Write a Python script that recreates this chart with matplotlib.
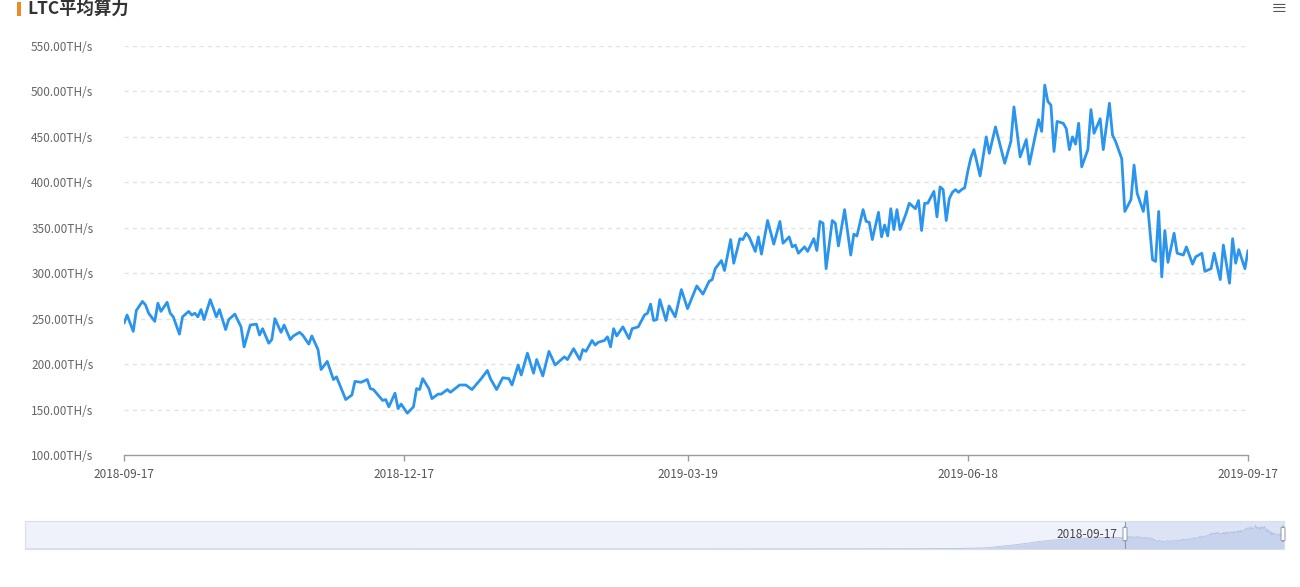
import matplotlib
matplotlib.use("Agg")
import matplotlib.pyplot as plt
from matplotlib.patches import Rectangle, FancyBboxPatch
import pandas as pd

plt.rcParams['font.family'] = ['Noto Sans CJK SC', 'DejaVu Sans']

# ---------------- data ----------------
title = "LTC平均算力"
start_date = "2018-09-17"
day_offsets = [
    0, 1, 3, 4, 6, 7, 8, 10, 11, 12, 14, 15, 16, 18, 19, 21, 22, 23, 24, 25, 26, 28, 30, 31, 33, 34, 36, 38, 39, 41,
    43, 44, 45, 47, 48, 49, 51, 52, 54, 55,
    57, 58, 60, 61, 63, 64, 66, 68, 69, 72, 74, 75, 77, 79, 80, 81, 84, 85, 86, 88, 89, 90, 92, 94, 95, 96, 97, 99,
    100, 102, 103, 105, 106, 109, 111,
    113, 116, 118, 119, 121, 123, 125, 126, 128, 129, 131, 133, 134, 136, 138, 140, 142, 143, 144, 146, 148, 149,
    150, 152, 153, 154, 156, 157, 158, 159, 160, 162, 164, 165,
    167, 169, 170, 171, 172, 173, 174, 176, 177, 179, 181, 183, 186, 188, 190, 191, 192, 194, 195, 197, 198, 200,
    201, 202, 203, 205, 206, 207, 209, 211, 213, 214, 216, 217, 218,
    219, 221, 222, 224, 225, 226, 227, 228, 230, 231, 232, 234, 236, 237, 238, 240, 241, 242, 243, 245, 246, 247,
    248, 249, 250, 251, 252, 254, 255, 257, 258, 259, 260, 261, 263, 264, 265, 266, 267, 268, 269, 270, 271, 272,
    273, 274, 275, 276,
    278, 280, 281, 283, 286, 288, 289, 291, 293, 294, 297, 298, 299, 300, 301, 302, 303, 305, 306, 307, 308, 309,
    310, 311, 313, 314, 315, 317, 318, 320, 321, 322, 324, 325, 327, 328, 329, 331, 332, 334, 335, 336, 337, 338,
    339, 341, 342, 344, 345, 347, 348, 350, 351, 353, 354, 356, 357, 359, 360, 361, 362, 364, 365,
]
hashrate = [
    245, 254, 236, 259, 269, 265, 256, 247, 267, 258, 268, 256, 252, 233, 252, 258, 254, 256, 252, 260, 249, 271,
    252, 260, 238, 249, 255, 241, 219, 243, 244, 232, 239, 223, 227, 250, 235, 243, 227, 231,
    235, 232, 222, 231, 216, 194, 203, 183, 186, 161, 166, 181, 180, 183, 173, 172, 160, 161, 153, 168, 151, 156,
    146, 153, 173, 172, 184, 173, 162, 167, 167, 172, 169, 177, 177,
    172, 184, 193, 184, 172, 185, 184, 177, 199, 188, 212, 190, 205, 187, 214, 199, 205, 208, 205, 217, 205, 216,
    214, 226, 221, 224, 226, 230, 219, 239, 231, 241, 228, 239,
    241, 254, 256, 266, 248, 249, 271, 248, 264, 252, 282, 261, 286, 277, 291, 293, 305, 314, 303, 337, 311, 338,
    337, 344, 340, 324, 340, 321, 358, 332, 357, 333, 340, 329, 331,
    322, 329, 324, 338, 325, 357, 355, 305, 358, 355, 330, 370, 320, 343, 341, 370, 357, 356, 337, 367, 340, 353,
    341, 371, 348, 370, 348, 366, 377, 371, 380, 347, 377, 377, 390, 362, 395, 392, 358, 382, 389, 392, 389, 392,
    394, 412, 427, 436,
    407, 450, 432, 461, 421, 445, 483, 428, 447, 420, 469, 456, 507, 489, 485, 434, 467, 465, 459, 436, 450, 442,
    465, 417, 436, 480, 454, 470, 436, 487, 452, 445, 426, 368, 381, 419, 388, 368, 390, 315, 313, 368, 296, 347,
    312, 344, 322, 320, 329, 310, 318, 322, 302, 305, 322, 293, 331, 289, 338, 311, 326, 305, 325,
]
x_tick_labels = ["2018-09-17", "2018-12-17", "2019-03-19", "2019-06-18", "2019-09-17"]
y_ticks = [100, 150, 200, 250, 300, 350, 400, 450, 500, 550]

# earlier history shown only in the data-zoom slider (rough reading)
history_dates = ["2011-10-12", "2013-01-01", "2014-01-01", "2015-01-01", "2016-01-01", "2017-01-01",
                 "2017-06-01", "2017-09-01", "2017-11-01", "2017-12-01", "2018-01-01", "2018-02-01",
                 "2018-03-01", "2018-04-01", "2018-05-01", "2018-06-01", "2018-07-01", "2018-08-01"]
history_values = [0, 0.1, 1, 1.5, 1, 3, 6, 12, 25, 55, 85, 120, 160, 190, 210, 225, 238, 248]

# ---------------- figure ----------------
W, H = 1300, 587
fig = plt.figure(figsize=(W / 100, H / 100), dpi=100)
fig.patch.set_facecolor("white")

def fx(px):
    return px / W

def fy(py):
    return 1 - py / H

dates = pd.Timestamp(start_date) + pd.to_timedelta(day_offsets, unit="D")
x0 = pd.Timestamp(start_date)
x1 = pd.Timestamp(x_tick_labels[-1])

ax = fig.add_axes([fx(124), fy(455), fx(1248) - fx(124), fy(46) - fy(455)])
ax.plot(dates, hashrate, color="#2b95ee", lw=2.0, solid_joinstyle="round", solid_capstyle="round", zorder=3)
ax.set_xlim(x0, x1)
ax.set_ylim(100, 550)
ax.set_yticks(y_ticks)
ax.set_yticklabels([f"{v:.2f}TH/s" for v in y_ticks])
ax.set_xticks([pd.Timestamp(t) for t in x_tick_labels])
ax.set_xticklabels(x_tick_labels)
for s in ["top", "right", "left"]:
    ax.spines[s].set_visible(False)
ax.spines["bottom"].set_color("#9a9a9a")
ax.spines["bottom"].set_linewidth(1.0)
ax.tick_params(axis="y", length=0, pad=22, labelsize=8.5, labelcolor="#666666")
ax.tick_params(axis="x", length=4, width=1, color="#9a9a9a", pad=5, labelsize=8.5, labelcolor="#555555")
ax.grid(axis="y", color="#e3e3e3", linestyle=(0, (3, 3)), linewidth=1.0)
ax.set_axisbelow(True)
for gl, v in zip(ax.get_ygridlines(), y_ticks):
    if v == 100:
        gl.set_visible(False)

# title and orange marker at the top-left
fig.text(fx(27), fy(9), title, fontsize=12.5, fontweight="bold", color="#333333", ha="left", va="center")
fig.patches.append(Rectangle((fx(17), fy(16)), fx(4), fy(2) - fy(16), transform=fig.transFigure,
                             facecolor="#f08a24", edgecolor="none"))
# menu icon
fig.text(fx(1279), fy(9), "≡", fontsize=12, color="#555555", ha="center", va="center")

# ---------------- data zoom slider ----------------
sax = fig.add_axes([fx(25), fy(549), fx(1284) - fx(25), fy(521) - fy(549)])
h_dates = pd.to_datetime(history_dates)
all_dates = list(h_dates) + list(dates)
all_vals = list(history_values) + list(hashrate)
sx0 = pd.Timestamp(history_dates[0])
sax.set_xlim(sx0, x1)
sax.set_ylim(0, 600)
sax.set_facecolor("#eff2fb")
sax.fill_between(all_dates, all_vals, 0, color="#c9d3eb", lw=0)
sax.plot(all_dates, all_vals, color="#b6c3e2", lw=0.6)
sax.axvspan(x0, x1, color="#c5d2ee", alpha=0.45, lw=0)
sax.axvline(x0, color="#8c97ae", lw=0.8)
for s in sax.spines.values():
    s.set_color("#d6deef")
sax.set_xticks([])
sax.set_yticks([])
# handles
for hx in (1125, 1283):
    fig.patches.append(FancyBboxPatch((fx(hx - 2), fy(541)), fx(4), fy(527) - fy(541),
                                      boxstyle="round,pad=0,rounding_size=0.002",
                                      transform=fig.transFigure, facecolor="#ffffff",
                                      edgecolor="#9aa3b5", lw=0.8))
fig.text(fx(1117), fy(534), start_date, fontsize=8.5, color="#444444", ha="right", va="center")

fig.savefig("out.png", dpi=100)
